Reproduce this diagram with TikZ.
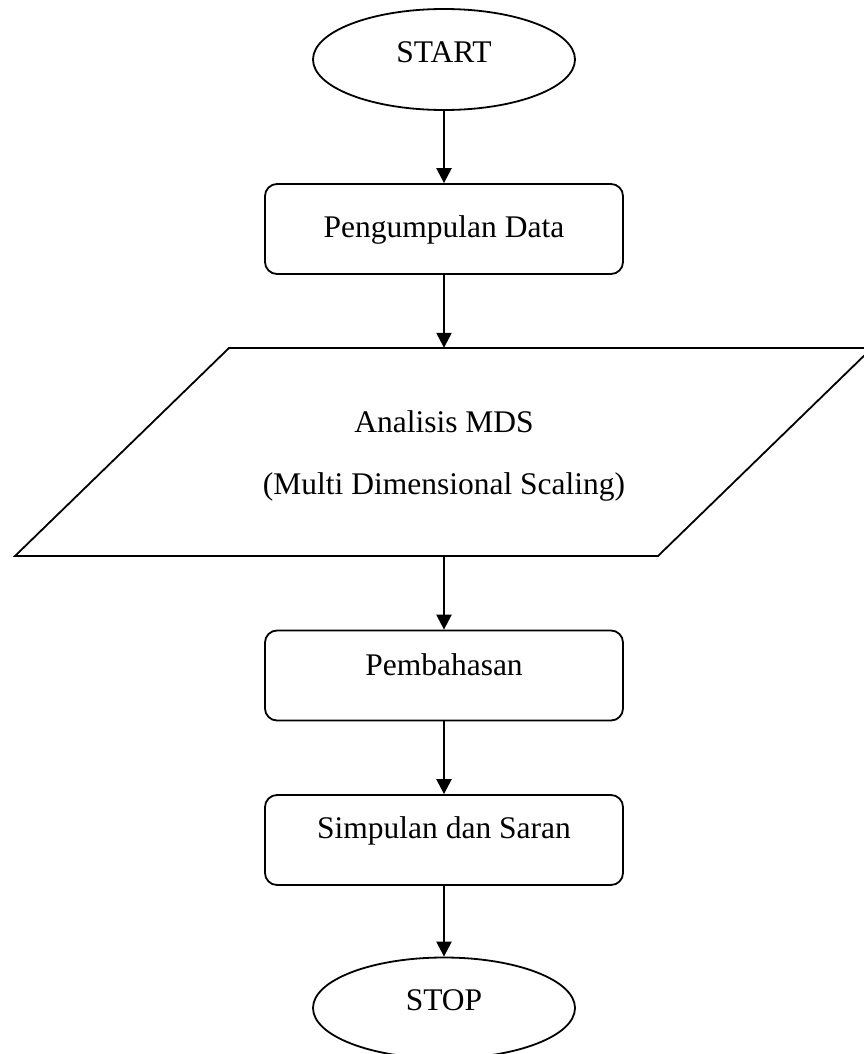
\documentclass[tikz,border=0pt]{standalone}
\usepackage{fontspec}
\setmainfont{Liberation Serif}
\usetikzlibrary{shapes.geometric,arrows.meta}
\begin{document}
\begin{tikzpicture}[x=1pt,y=-1pt,
  term/.style={draw, ellipse, line width=1.8pt, minimum width=262pt, minimum height=101pt, inner sep=0pt},
  proc/.style={draw, rounded corners=12pt, line width=1.8pt, minimum width=358pt, minimum height=90pt, inner sep=0pt},
  zone/.style={inner sep=0pt, minimum width=643pt, minimum height=208pt},
  lbl/.style={anchor=base, inner sep=0pt, font=\fontsize{31.5}{38}\selectfont},
  arr/.style={line width=2.4pt, -{Triangle[length=15pt,width=15pt]}}]
\path[use as bounding box, clip] (0,0) rectangle (864,1054);

\node[term] (start) at (444,59.5) {};
\node[lbl] (tstart) at (444,63) {START};

\node[proc] (data) at (444,229) {};
\node[lbl] (tdata) at (444,237) {Pengumpulan Data};

\node[zone] (mds) at (444,452) {};
\draw[line width=1.8pt, line join=miter] (229,348) -- (872,348) -- (658,556) -- (15,556) -- cycle;
\node[lbl] (tmds1) at (444,432) {Analisis MDS};
\node[lbl] (tmds2) at (444,494) {(Multi Dimensional Scaling)};

\node[proc] (pemb) at (444,675.5) {};
\node[lbl] (tpemb) at (444,675) {Pembahasan};

\node[proc] (simp) at (444,840) {};
\node[lbl] (tsimp) at (444,838) {Simpulan dan Saran};

\node[term] (stop) at (444,1008) {};
\node[lbl] (tstop) at (444,1010) {STOP};

\draw[arr] (start.south) -- (data.north);
\draw[arr] (data.south) -- (mds.north);
\draw[arr] (mds.south) -- (pemb.north);
\draw[arr] (pemb.south) -- (simp.north);
\draw[arr] (simp.south) -- (stop.north);
\end{tikzpicture}
\end{document}
